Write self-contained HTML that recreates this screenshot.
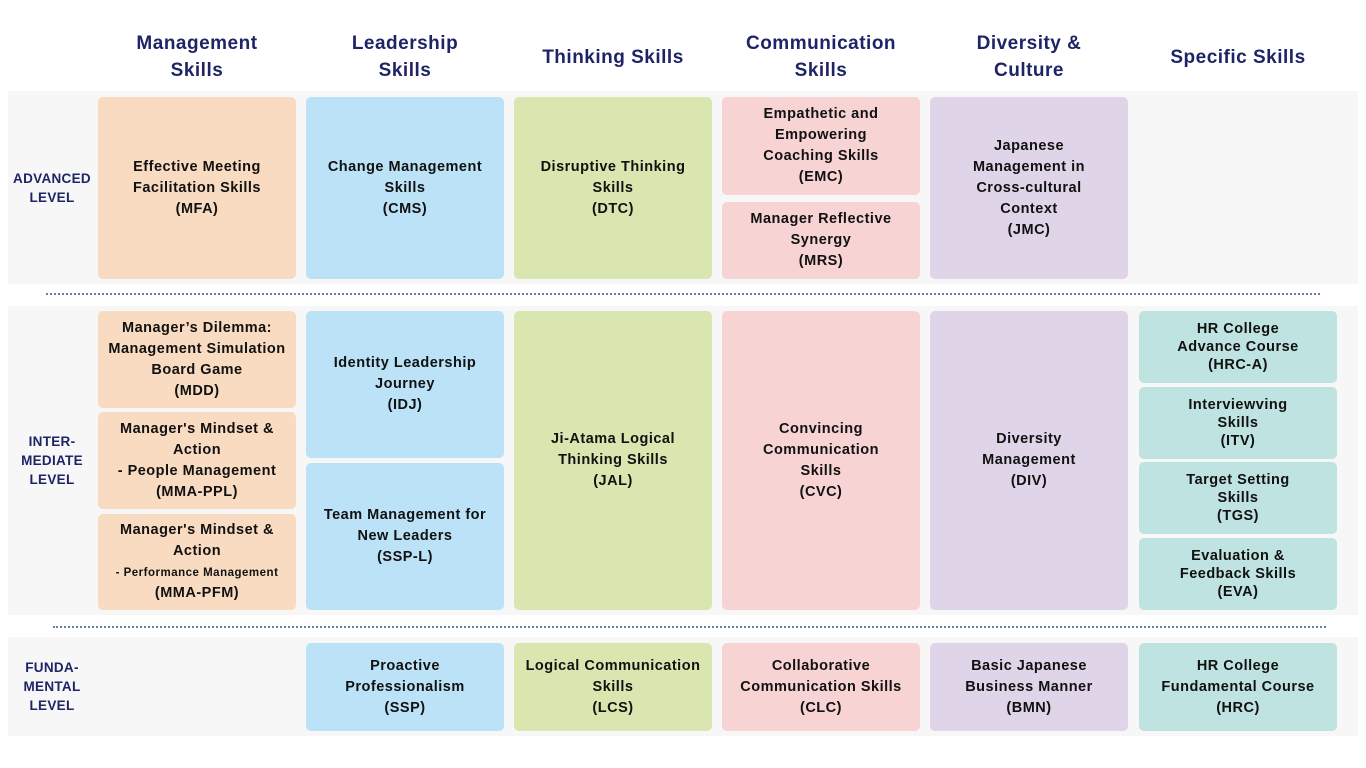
<!DOCTYPE html>
<html><head><meta charset="utf-8"><style>
*{margin:0;padding:0;box-sizing:border-box}
body{width:1366px;height:768px;background:#fff;position:relative;overflow:hidden;font-family:"Liberation Sans",sans-serif;font-weight:bold}
.a{position:absolute}
.band{position:absolute;left:8px;width:1350px;background:#f7f7f7}
.h{position:absolute;top:30px;width:198px;height:54px;display:flex;align-items:center;justify-content:center;text-align:center;color:#1e2466;font-size:19px;line-height:27px;letter-spacing:0.5px}
.lv{position:absolute;left:8px;width:88px;display:flex;align-items:center;justify-content:center;text-align:center;color:#1e2466;font-size:13.5px;line-height:19px;letter-spacing:0.3px}
.b{position:absolute;border-radius:5px;display:flex;align-items:center;justify-content:center;text-align:center;color:#111;font-size:14.5px;line-height:21px;letter-spacing:0.5px;padding:0 4px}
.sp{line-height:18px}
.o{background:#f9dbc1}.bl{background:#bbe2f7}.g{background:#d9e6b0}.p{background:#f8d3d3}.pu{background:#e0d4e8}.t{background:#bfe3e0}
.dot{position:absolute;height:0;border-top:2px dotted #6a7fa8}
</style></head><body>
<div class="h" style="left:98px">Management<br>Skills</div>
<div class="h" style="left:306px">Leadership<br>Skills</div>
<div class="h" style="left:514px">Thinking Skills</div>
<div class="h" style="left:722px">Communication<br>Skills</div>
<div class="h" style="left:930px">Diversity &amp;<br>Culture</div>
<div class="h" style="left:1139px">Specific Skills</div>

<div class="band" style="top:91px;height:193px"></div>
<div class="band" style="top:306px;height:309px"></div>
<div class="band" style="top:637px;height:99px"></div>
<div class="dot" style="left:46px;width:1274px;top:293px"></div>
<div class="dot" style="left:53px;width:1273px;top:626px"></div>

<div class="lv" style="top:91px;height:193px">ADVANCED<br>LEVEL</div>
<div class="lv" style="top:306px;height:309px">INTER-<br>MEDIATE<br>LEVEL</div>
<div class="lv" style="top:637px;height:99px">FUNDA-<br>MENTAL<br>LEVEL</div>

<div class="b o" style="left:98px;top:97px;width:198px;height:182px">Effective Meeting<br>Facilitation Skills<br>(MFA)</div>
<div class="b bl" style="left:306px;top:97px;width:198px;height:182px">Change Management<br>Skills<br>(CMS)</div>
<div class="b g" style="left:514px;top:97px;width:198px;height:182px">Disruptive Thinking<br>Skills<br>(DTC)</div>
<div class="b p" style="left:722px;top:97px;width:198px;height:98px">Empathetic and<br>Empowering<br>Coaching Skills<br>(EMC)</div>
<div class="b p" style="left:722px;top:202px;width:198px;height:77px">Manager Reflective<br>Synergy<br>(MRS)</div>
<div class="b pu" style="left:930px;top:97px;width:198px;height:182px">Japanese<br>Management in<br>Cross-cultural<br>Context<br>(JMC)</div>

<div class="b o" style="left:98px;top:311px;width:198px;height:97px">Manager’s Dilemma:<br>Management Simulation<br>Board Game<br>(MDD)</div>
<div class="b o" style="left:98px;top:412px;width:198px;height:97px">Manager's Mindset &amp;<br>Action<br>- People Management<br>(MMA-PPL)</div>
<div class="b o" style="left:98px;top:514px;width:198px;height:96px"><div>Manager's Mindset &amp;<br>Action<br><span style="font-size:11.5px;line-height:15px">- Performance Management</span><br>(MMA-PFM)</div></div>
<div class="b bl" style="left:306px;top:311px;width:198px;height:147px">Identity Leadership<br>Journey<br>(IDJ)</div>
<div class="b bl" style="left:306px;top:463px;width:198px;height:147px">Team Management for<br>New Leaders<br>(SSP-L)</div>
<div class="b g" style="left:514px;top:311px;width:198px;height:299px">Ji-Atama Logical<br>Thinking Skills<br>(JAL)</div>
<div class="b p" style="left:722px;top:311px;width:198px;height:299px">Convincing<br>Communication<br>Skills<br>(CVC)</div>
<div class="b pu" style="left:930px;top:311px;width:198px;height:299px">Diversity<br>Management<br>(DIV)</div>
<div class="b t sp" style="left:1139px;top:311px;width:198px;height:72px">HR College<br>Advance Course<br>(HRC-A)</div>
<div class="b t sp" style="left:1139px;top:387px;width:198px;height:72px">Interviewving<br>Skills<br>(ITV)</div>
<div class="b t sp" style="left:1139px;top:462px;width:198px;height:72px">Target Setting<br>Skills<br>(TGS)</div>
<div class="b t sp" style="left:1139px;top:538px;width:198px;height:72px">Evaluation &amp;<br>Feedback Skills<br>(EVA)</div>

<div class="b bl" style="left:306px;top:643px;width:198px;height:88px">Proactive<br>Professionalism<br>(SSP)</div>
<div class="b g" style="left:514px;top:643px;width:198px;height:88px">Logical Communication<br>Skills<br>(LCS)</div>
<div class="b p" style="left:722px;top:643px;width:198px;height:88px">Collaborative<br>Communication Skills<br>(CLC)</div>
<div class="b pu" style="left:930px;top:643px;width:198px;height:88px">Basic Japanese<br>Business Manner<br>(BMN)</div>
<div class="b t" style="left:1139px;top:643px;width:198px;height:88px">HR College<br>Fundamental Course<br>(HRC)</div>
</body></html>
